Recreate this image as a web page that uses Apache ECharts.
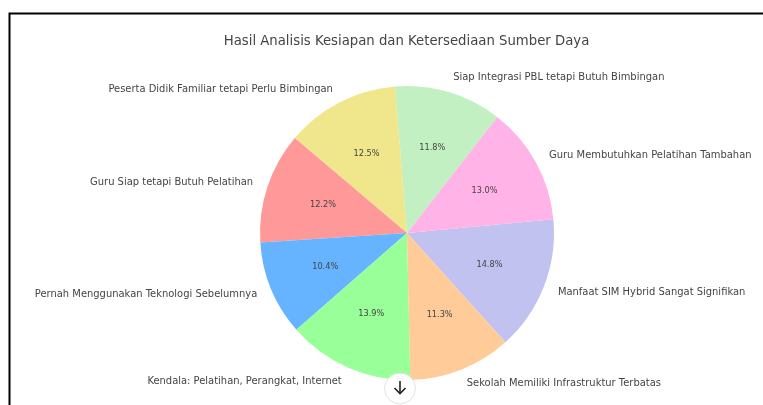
<!DOCTYPE html>
<html>
<head>
<meta charset="utf-8">
<style>
html,body{margin:0;padding:0;background:#fff;}
#main{width:763px;height:405px;}
</style>
<script src="https://cdn.jsdelivr.net/npm/echarts@6/dist/echarts.min.js"></script>
</head>
<body>
<div id="main"></div>
<script>
var categories = ['Manfaat SIM Hybrid Sangat Signifikan', 'Guru Membutuhkan Pelatihan Tambahan', 'Siap Integrasi PBL tetapi Butuh Bimbingan', 'Peserta Didik Familiar tetapi Perlu Bimbingan', 'Guru Siap tetapi Butuh Pelatihan', 'Pernah Menggunakan Teknologi Sebelumnya', 'Kendala: Pelatihan, Perangkat, Internet', 'Sekolah Memiliki Infrastruktur Terbatas'];
var values = [14.8, 13.0, 11.8, 12.5, 12.2, 10.4, 13.9, 11.3];
var colors = ['#c2c2f0', '#ffb3e6', '#c2f0c2', '#f0e68c', '#ff9999', '#66b3ff', '#99ff99', '#ffcc99'];
var fontName = 'DejaVu Sans';

var myChart = echarts.init(document.getElementById('main'));
var option = {
    animation: false,
    title: {
        text: 'Hasil Analisis Kesiapan dan Ketersediaan Sumber Daya',
        left: 401.5,
        top: 30,
        textAlign: 'center',
        textStyle: { fontFamily: fontName, fontSize: 13.25, fontWeight: 'normal', color: '#444' }
    },
    series: [
        // wedges and the outer names
        {
            type: 'pie',
            center: [407, 233],
            radius: 147,
            startAngle: -48,
            clockwise: false,
            silent: true,
            avoidLabelOverlap: false,
            data: categories.map(function (name, i) {
                return { name: name, value: values[i], itemStyle: { color: colors[i] } };
            }),
            label: {
                position: 'outside',
                distanceToLabelLine: 0,
                fontFamily: fontName,
                fontSize: 9.95,
                color: '#444'
            },
            labelLine: { show: false, length: 15, length2: 0 }
        },
        // see-through ring, only there to put the percentages near 0.6 of the radius
        {
            type: 'pie',
            center: [407, 233],
            radius: [24, 147],
            startAngle: -48,
            clockwise: false,
            silent: true,
            itemStyle: { color: 'transparent' },
            data: categories.map(function (name, i) {
                return { name: name, value: values[i] };
            }),
            label: {
                position: 'inside',
                formatter: function (p) { return values[p.dataIndex].toFixed(1) + '%'; },
                fontFamily: fontName,
                fontSize: 8.2,
                color: '#444'
            }
        }
    ],
    graphic: [
        // screenshot frame
        { type: 'polyline', z: 100, shape: { points: [[9.5, 405], [9.5, 13.5], [763, 13.5]] }, style: { stroke: '#000', lineWidth: 2, fill: null } },
        // scroll button
        { type: 'circle', z: 100, shape: { cx: 400, cy: 388.5, r: 15.5 }, style: { fill: '#fff', stroke: '#e3e3e3', lineWidth: 1 } },
        { type: 'polyline', z: 101, shape: { points: [[400, 381], [400, 393.5]] }, style: { stroke: '#222', lineWidth: 1.6, fill: null } },
        { type: 'polyline', z: 101, shape: { points: [[394.5, 388], [400, 393.5], [405.5, 388]] }, style: { stroke: '#222', lineWidth: 1.6, fill: null } }
    ]
};
myChart.setOption(option);
</script>
</body>
</html>
